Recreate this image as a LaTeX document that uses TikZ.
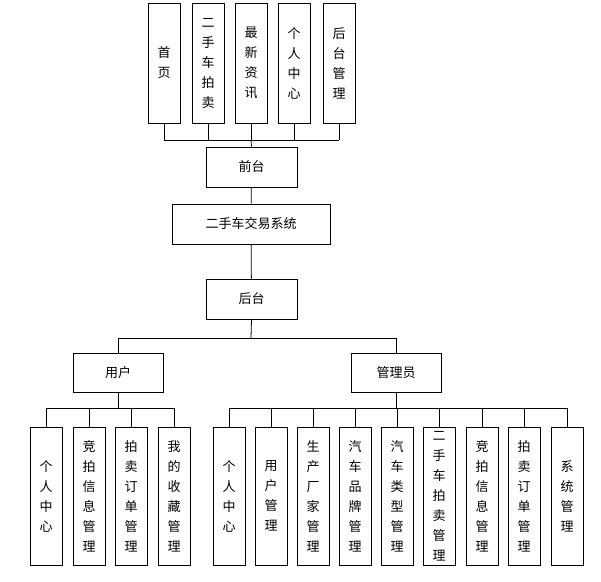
\documentclass[tikz,border=0pt]{standalone}
\usepackage{fontspec}
\setmainfont{Noto Sans CJK SC}
\begin{document}
\begin{tikzpicture}[x=1pt,y=-1pt,
 box/.style={draw,thick,minimum width=#1,inner sep=0pt,font=\fontsize{13}{15}\selectfont},
 vb/.style={draw,thick,minimum width=32pt,minimum height=#1,inner sep=0pt,align=center,font=\fontsize{13}{20}\selectfont},
 ln/.style={thick}]
\useasboundingbox (0,0) rectangle (601,581);
% top
\foreach \n/\x/\t in {a/164/首\\页,b/208/二\\手\\车\\拍\\卖,c/251/最\\新\\资\\讯,d/294/个\\人\\中\\心,e/339/后\\台\\管\\理}
  \node[vb=120pt] (\n) at (\x,63) {\t};
\node[box=91pt,minimum height=40pt] (qt) at (251.5,167) {前台};
\node[box=158pt,minimum height=40pt] (sys) at (251,224) {二手车交易系统};
\node[box=91pt,minimum height=40pt] (ht) at (251.5,299) {后台};
\coordinate (tb) at (251,140);
\foreach \n in {a,b,c,d,e} \draw[ln] (\n.south) -- (\n.south |- tb);
\draw[ln] (a.south |- tb) -- (e.south |- tb);
\draw[ln] (tb) -- (qt.north);
\draw[ln] (qt) -- (sys);
\draw[ln] (sys) -- (ht);
\node[box=90pt,minimum height=39pt] (yh) at (118,372.5) {用户};
\node[box=90pt,minimum height=39pt] (gly) at (396,372.5) {管理员};
\coordinate (mb) at (251,338);
\draw[ln] (ht.south) -- (mb);
\draw[ln] (yh.north |- mb) -- (gly.north |- mb);
\draw[ln] (yh.north |- mb) -- (yh.north);
\draw[ln] (gly.north |- mb) -- (gly.north);
% user children
\foreach \n/\x/\t in {u1/46/个\\人\\中\\心,u2/89/竞\\拍\\信\\息\\管\\理,u3/131/拍\\卖\\订\\单\\管\\理,u4/174/我\\的\\收\\藏\\管\\理}
  \node[vb=138pt] (\n) at (\x,496) {\t};
\coordinate (ub) at (118,408);
\draw[ln] (yh.south) -- (ub);
\draw[ln] (u1.north |- ub) -- (u4.north |- ub);
\foreach \n in {u1,u2,u3,u4} \draw[ln] (\n.north |- ub) -- (\n.north);
% admin children
\foreach \n/\x/\t in {g1/229/个\\人\\中\\心,g2/271/用\\户\\管\\理,g3/313/生\\产\\厂\\家\\管\\理,g4/355/汽\\车\\品\\牌\\管\\理,g5/397/汽\\车\\类\\型\\管\\理,g6/439/二\\手\\车\\拍\\卖\\管\\理,g7/482/竞\\拍\\信\\息\\管\\理,g8/524/拍\\卖\\订\\单\\管\\理,g9/567/系\\统\\管\\理}
  \node[vb=138pt] (\n) at (\x,496) {\t};
\coordinate (gb) at (396,408);
\draw[ln] (gly.south) -- (gb);
\draw[ln] (g1.north |- gb) -- (g9.north |- gb);
\foreach \n in {g1,g2,g3,g4,g5,g6,g7,g8,g9} \draw[ln] (\n.north |- gb) -- (\n.north);
\end{tikzpicture}
\end{document}
